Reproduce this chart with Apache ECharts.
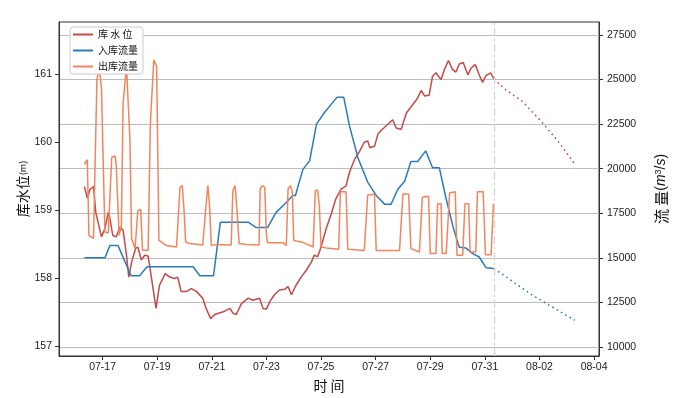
<!DOCTYPE html>
<html>
<head>
<meta charset="utf-8">
<script src="https://cdn.jsdelivr.net/npm/echarts@6/dist/echarts.min.js"></script>
<style>
html,body{margin:0;padding:0;background:#fff;}
#chart{width:677px;height:398px;}
</style>
</head>
<body>
<div id="chart"></div>
<script>
// ---- data (times are MM-DD HH:mm, year omitted) ----
const levelTimes = ['07-16 08:00','07-16 10:30','07-16 13:00','07-16 16:00','07-16 18:00','07-16 23:00','07-17 02:00','07-17 05:00','07-17 06:00','07-17 09:00','07-17 12:00','07-17 15:00','07-17 18:00','07-17 21:00','07-17 23:00','07-18 01:30','07-18 05:00','07-18 07:00','07-18 10:00','07-18 13:00','07-18 16:00','07-18 19:00','07-18 23:00','07-19 02:00','07-19 07:00','07-19 11:00','07-19 15:00','07-19 18:00','07-19 21:00','07-20 02:00','07-20 06:00','07-20 10:30','07-20 16:00','07-20 19:00','07-20 23:00','07-21 02:30','07-21 10:00','07-21 16:00','07-21 18:30','07-21 21:30','07-22 02:00','07-22 08:00','07-22 12:00','07-22 18:00','07-22 21:00','07-23 00:00','07-23 03:00','07-23 07:00','07-23 11:30','07-23 16:00','07-23 19:00','07-23 22:00','07-24 02:00','07-24 06:30','07-24 11:00','07-24 15:30','07-24 18:00','07-24 21:00','07-25 00:00','07-25 04:30','07-25 09:00','07-25 13:00','07-25 17:30','07-25 22:00','07-26 01:00','07-26 05:30','07-26 10:00','07-26 14:00','07-26 17:00','07-26 19:00','07-26 23:00','07-27 02:00','07-27 06:00','07-27 10:30','07-27 15:00','07-27 18:00','07-27 22:30','07-28 03:00','07-28 08:30','07-28 13:00','07-28 16:00','07-28 19:00','07-28 23:00','07-29 02:00','07-29 05:00','07-29 09:30','07-29 12:30','07-29 16:00','07-29 19:30','07-29 22:30','07-30 01:30','07-30 05:00','07-30 09:00','07-30 12:00','07-30 15:30','07-30 19:00','07-30 22:00','07-31 01:00','07-31 05:00','07-31 08:00'];
const levelValues = [159.35,159.18,159.31,159.35,158.97,158.61,158.73,158.97,158.92,158.63,158.61,158.75,158.71,158.34,158.02,158.24,158.44,158.46,158.27,158.34,158.33,158.00,157.56,157.90,158.07,158.02,158.00,158.02,157.81,157.81,157.85,157.81,157.71,157.56,157.41,157.47,157.51,157.56,157.49,157.47,157.63,157.71,157.68,157.71,157.56,157.55,157.66,157.76,157.83,157.84,157.88,157.76,157.90,158.02,158.12,158.24,158.34,158.32,158.46,158.73,158.95,159.17,159.31,159.36,159.56,159.75,159.87,160.00,160.02,159.92,159.94,160.12,160.19,160.26,160.33,160.21,160.19,160.43,160.55,160.65,160.76,160.68,160.69,160.97,161.02,160.92,161.07,161.20,161.07,161.03,161.15,161.17,160.99,161.09,161.14,160.99,160.88,160.98,161.02,160.93];
const levelFcTimes = ['07-31 08:00','07-31 18:30','08-01 09:00','08-02 02:30','08-02 17:00','08-03 07:00'];
const levelFcValues = [160.93,160.77,160.60,160.29,160.00,159.68];

const inflowTimes = ['07-16 08:00','07-17 02:00','07-17 06:30','07-17 13:30','07-18 01:00','07-18 08:30','07-18 15:00','07-20 07:30','07-20 13:30','07-21 01:30','07-21 07:30','07-22 08:00','07-22 15:00','07-23 01:00','07-23 08:30','07-23 17:30','07-23 23:00','07-24 01:30','07-24 08:00','07-24 14:00','07-24 20:00','07-25 03:00','07-25 14:00','07-25 20:00','07-26 01:00','07-26 08:30','07-26 17:00','07-27 00:30','07-27 08:00','07-27 13:30','07-27 19:30','07-28 01:30','07-28 07:00','07-28 13:00','07-28 20:00','07-29 02:00','07-29 08:00','07-29 14:00','07-29 20:00','07-30 01:30','07-30 07:30','07-30 13:00','07-30 19:00','07-31 01:00','07-31 08:00'];
const inflowValues = [15000,15000,15700,15700,14000,14000,14500,14500,14000,14000,17000,17000,16700,16700,17550,18100,18500,18500,19950,20450,22500,23150,24000,24000,22400,20600,19250,18500,18000,18000,18850,19300,20400,20400,21000,20050,20050,18300,16750,15600,15550,15250,15050,14450,14400];
const inflowFcTimes = ['07-31 08:00','08-01 18:00','08-02 08:30','08-03 07:00'];
const inflowFcValues = [14400,12900,12350,11500];

const outflowTimes = ['07-16 08:00','07-16 10:30','07-16 12:00','07-16 16:00','07-16 19:00','07-16 21:00','07-16 23:00','07-17 02:00','07-17 05:00','07-17 08:00','07-17 11:00','07-17 12:00','07-17 14:30','07-17 16:30','07-17 18:00','07-17 21:00','07-18 00:00','07-18 01:30','07-18 04:30','07-18 07:00','07-18 09:30','07-18 11:00','07-18 16:00','07-18 18:00','07-18 21:00','07-18 23:30','07-19 01:30','07-19 08:00','07-19 17:00','07-19 20:00','07-19 22:00','07-19 23:30','07-20 01:00','07-20 04:30','07-20 16:00','07-20 18:30','07-20 20:30','07-20 22:00','07-20 23:30','07-21 04:00','07-21 17:00','07-21 18:30','07-21 20:30','07-21 22:00','07-22 00:00','07-22 06:30','07-22 17:30','07-22 18:30','07-22 20:30','07-22 22:30','07-23 00:00','07-23 01:00','07-23 14:30','07-23 17:30','07-23 19:00','07-23 21:00','07-23 22:45','07-24 00:00','07-24 02:00','07-24 08:00','07-24 17:00','07-24 19:00','07-24 21:00','07-24 22:30','07-25 00:00','07-25 04:30','07-25 15:30','07-25 17:00','07-25 22:00','07-25 23:30','07-26 14:00','07-26 17:00','07-26 23:00','07-27 00:30','07-27 21:00','07-28 00:00','07-28 05:00','07-28 07:00','07-28 14:30','07-28 17:00','07-28 22:30','07-29 00:00','07-29 05:00','07-29 06:30','07-29 09:30','07-29 10:30','07-29 14:00','07-29 17:00','07-29 22:00','07-29 23:30','07-30 04:30','07-30 06:30','07-30 09:45','07-30 11:00','07-30 16:00','07-30 17:30','07-30 22:30','07-31 00:30','07-31 05:30','07-31 07:30'];
const outflowValues = [20250,20500,16250,16100,25000,25700,24500,16450,16400,20630,20720,20160,16260,16820,23700,25700,21650,16080,15520,17650,17710,15430,15430,22580,26100,25740,15980,15700,15610,18960,19050,17750,15890,15800,15720,17650,19050,17930,15700,15750,15720,18770,19050,17750,15800,15750,15720,18860,19050,18960,16260,15850,15850,15700,18860,19050,18700,15980,15950,15870,15610,18770,18800,17930,15610,15560,15480,18710,18710,15480,15420,18530,18570,15420,15420,18580,18580,15520,15330,18400,18450,15240,15240,18030,18030,15240,15240,18640,18710,15140,15140,18030,18030,15330,15330,18710,18710,15180,15180,18030];

const forecastStart = '07-31 08:00';
const xTickLabels = ['07-17','07-19','07-21','07-23','07-25','07-27','07-29','07-31','08-02','08-04'];
const levelTicks = [157,158,159,160,161];
const flowTicks = [10000,12500,15000,17500,20000,22500,25000,27500];

// ---- helpers: convert "MM-DD HH:mm" to days after 07-17 00:00 ----
function toDay(s){
  const m = +s.slice(0,2), d = +s.slice(3,5);
  const hh = s.length > 5 ? +s.slice(6,8) : 0, mm = s.length > 5 ? +s.slice(9,11) : 0;
  const base = m === 7 ? d - 17 : d + 14;
  return base + hh/24 + mm/1440;
}
function pairs(ts, vs){ return ts.map((t,i)=>[toDay(t), vs[i]]); }
function dayLabel(v){
  const r = Math.round(v);
  const p = n => (n<10?'0':'')+n;
  return r < 15 ? '07-' + p(17+r) : '08-' + p(r-14);
}

const FONT = '"Liberation Sans","Noto Sans CJK SC",sans-serif';
const CJK = '"Noto Sans CJK SC","Liberation Sans",sans-serif';
const RED = '#c44a47', BLUE = '#2b7bba', ORANGE = '#f4845c';

const chart = echarts.init(document.getElementById('chart'), null, {renderer:'canvas'});
chart.setOption({
  animation:false,
  backgroundColor:'#fff',
  grid:{left:59,right:77,top:22,bottom:40,show:true,borderColor:'#333',borderWidth:1,backgroundColor:'transparent'},
  legend:{
    data:['库 水 位','入库流量','出库流量'],
    orient:'vertical', left:70, top:27, zlevel:1, z:20,
    icon:'rect', itemWidth:20, itemHeight:2, itemGap:1, itemTextGap:8,
    padding:[0,5,0,3],
    backgroundColor:'#ffffff', borderColor:'#cccccc', borderWidth:1, borderRadius:3,
    textStyle:{fontFamily:CJK,fontSize:10,color:'#111',lineHeight:15}
  },
  xAxis:{
    type:'value', min:toDay('07-15 09:40'), max:toDay('08-04 04:20'),
    name:'时 间', nameLocation:'middle', nameGap:23, nameMoveOverlap:false,
    nameTextStyle:{fontFamily:CJK,fontSize:14,color:'#111'},
    axisLine:{show:true,onZero:false,lineStyle:{color:'#333'}},
    axisTick:{show:true,length:4,lineStyle:{color:'#333'},customValues:xTickLabels.map(toDay)},
    axisLabel:{fontFamily:FONT,fontSize:10.5,color:'#222',margin:6,customValues:xTickLabels.map(toDay),formatter:dayLabel},
    splitLine:{show:false}
  },
  yAxis:[{
    type:'value', position:'left', min:156.861, max:161.766,
    name:'{a|库水位}{b|(m)}', nameLocation:'middle', nameGap:29, nameMoveOverlap:false,
    nameTextStyle:{rich:{a:{fontFamily:CJK,fontSize:14,color:'#111'},b:{fontFamily:CJK,fontSize:9,color:'#111'}}},
    axisLine:{show:true,onZero:false,lineStyle:{color:'#333'}},
    axisTick:{show:true,length:4,lineStyle:{color:'#333'},customValues:levelTicks},
    axisLabel:{fontFamily:FONT,fontSize:10.5,color:'#222',margin:7,customValues:levelTicks,formatter:v=>String(v)},
    splitLine:{show:false}
  },{
    type:'value', position:'right', min:9498, max:28225,
    name:'{a|流 量}{b|(}{c|m}{d|3}{b|/}{c|s}{b|)}', nameLocation:'middle', nameGap:55, nameMoveOverlap:false,
    nameTextStyle:{rich:{
      a:{fontFamily:CJK,fontSize:15,color:'#111'},
      b:{fontFamily:FONT,fontSize:14,color:'#111'},
      c:{fontFamily:FONT,fontSize:14,fontStyle:'italic',color:'#111'},
      d:{fontFamily:FONT,fontSize:9,color:'#111',verticalAlign:'top'}
    }},
    axisLine:{show:true,onZero:false,lineStyle:{color:'#333'}},
    axisTick:{show:true,length:4,lineStyle:{color:'#333'},customValues:flowTicks},
    axisLabel:{fontFamily:FONT,fontSize:10.5,color:'#222',margin:8,customValues:flowTicks,formatter:v=>String(v)},
    splitLine:{show:true,lineStyle:{color:'#bdbdbd',width:1}}
  }],
  series:[
    {name:'库 水 位',type:'line',yAxisIndex:0,z:2,symbol:'none',data:pairs(levelTimes,levelValues),
     lineStyle:{color:RED,width:1.5},itemStyle:{color:RED}},
    {name:'库水位预报',type:'line',yAxisIndex:0,z:2,symbol:'none',data:pairs(levelFcTimes,levelFcValues),
     lineStyle:{color:RED,width:1.6,type:[1.5,3.5]},itemStyle:{color:RED}},
    {name:'入库流量',type:'line',yAxisIndex:1,z:3,symbol:'none',data:pairs(inflowTimes,inflowValues),
     lineStyle:{color:BLUE,width:1.5},itemStyle:{color:BLUE}},
    {name:'入库流量预报',type:'line',yAxisIndex:1,z:3,symbol:'none',data:pairs(inflowFcTimes,inflowFcValues),
     lineStyle:{color:BLUE,width:1.6,type:[1.5,3.5]},itemStyle:{color:BLUE}},
    {name:'出库流量',type:'line',yAxisIndex:1,z:4,symbol:'none',data:pairs(outflowTimes,outflowValues),
     lineStyle:{color:ORANGE,width:1.5},itemStyle:{color:ORANGE},
     markLine:{silent:true,symbol:'none',label:{show:false},
       lineStyle:{color:'#d3d3d3',width:1.3,type:[8,3,2,3]},
       data:[{xAxis:toDay(forecastStart)}]}}
  ]
});
</script>
</body>
</html>
